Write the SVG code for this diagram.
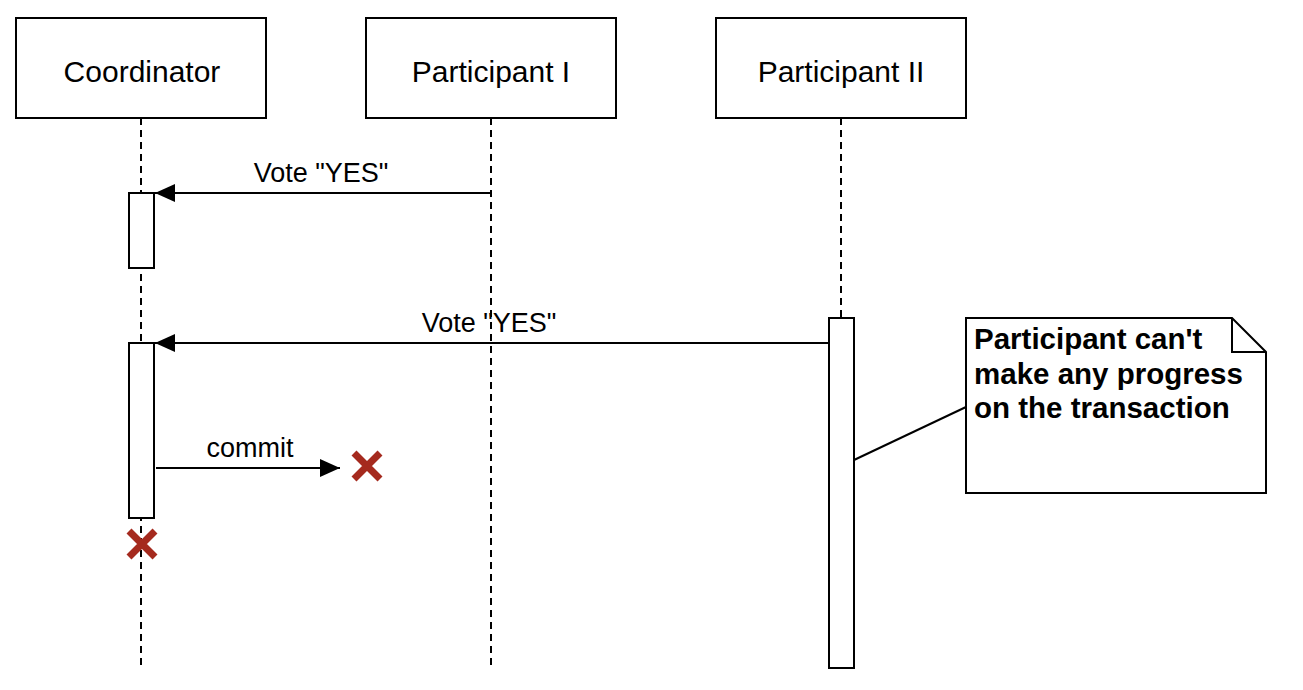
<svg xmlns="http://www.w3.org/2000/svg" width="1303" height="690" viewBox="0 0 1303 690">
  <style>
    .box { fill: #ffffff; stroke: #000000; stroke-width: 2; }
    .life { stroke: #000000; stroke-width: 2; stroke-dasharray: 7 5; fill: none; }
    .msg { stroke: #000000; stroke-width: 2; fill: none; }
    .head { font-family: "Liberation Sans", Arial, sans-serif; font-size: 30px; fill: #000000; }
    .lbl { font-family: "Liberation Sans", Arial, sans-serif; font-size: 27px; fill: #000000; }
    .note { font-family: "Liberation Sans", Arial, sans-serif; font-size: 29.5px; font-weight: bold; fill: #000000; }
    .x { stroke: #A52A1E; stroke-width: 7; fill: none; }
  </style>
  <defs>
    <marker id="arr" viewBox="0 0 20 20" refX="20" refY="10" markerWidth="20" markerHeight="20" markerUnits="userSpaceOnUse" orient="auto">
      <path d="M0,1 L20,10 L0,19 Z" fill="#000000"/>
    </marker>
  </defs>
  <rect width="1303" height="690" fill="#ffffff"/>

  <g id="lifelines">
    <line class="life" x1="141" y1="118" x2="141" y2="668"/>
    <line class="life" x1="491" y1="118" x2="491" y2="668"/>
    <line class="life" x1="841" y1="118" x2="841" y2="318"/>
  </g>

  <g id="coordinator">
    <rect class="box" x="16" y="18" width="250" height="100"/>
    <text class="head" x="142" y="82" text-anchor="middle">Coordinator</text>
  </g>
  <g id="participant1">
    <rect class="box" x="366" y="18" width="250" height="100"/>
    <text class="head" x="491" y="82" text-anchor="middle">Participant I</text>
  </g>
  <g id="participant2">
    <rect class="box" x="716" y="18" width="250" height="100"/>
    <text class="head" x="841" y="82" text-anchor="middle">Participant II</text>
  </g>

  <g id="activation1"><rect class="box" x="129" y="193" width="25" height="75"/></g>
  <g id="activation2"><rect class="box" x="129" y="343" width="25" height="175"/></g>
  <g id="activation3"><rect class="box" x="829" y="318" width="25" height="350"/></g>

  <g id="note">
    <path class="box" d="M966,318 L1232,318 L1266,352 L1266,493 L966,493 Z"/>
    <path class="msg" d="M1232,318 L1232,352 L1266,352"/>
    <text class="note" x="974" y="349">Participant can't</text>
    <text class="note" x="974" y="384">make any progress</text>
    <text class="note" x="974" y="418">on the transaction</text>
  </g>

  <g id="destroy1"><path class="x" d="M354,453 L380,479 M380,453 L354,479"/></g>
  <g id="destroy2"><path class="x" d="M129,531 L155,557 M155,531 L129,557"/></g>

  <g id="connectors">
    <line class="msg" x1="491" y1="193" x2="155" y2="193" marker-end="url(#arr)"/>
    <text class="lbl" x="321" y="182" text-anchor="middle">Vote "YES"</text>
    <line class="msg" x1="829" y1="343" x2="155" y2="343" marker-end="url(#arr)"/>
    <text class="lbl" x="489" y="332" text-anchor="middle">Vote "YES"</text>
    <line class="msg" x1="156" y1="468" x2="340" y2="468" marker-end="url(#arr)"/>
    <text class="lbl" x="250" y="457" text-anchor="middle">commit</text>
    <line class="msg" x1="854" y1="460" x2="966" y2="407"/>
  </g>
</svg>
